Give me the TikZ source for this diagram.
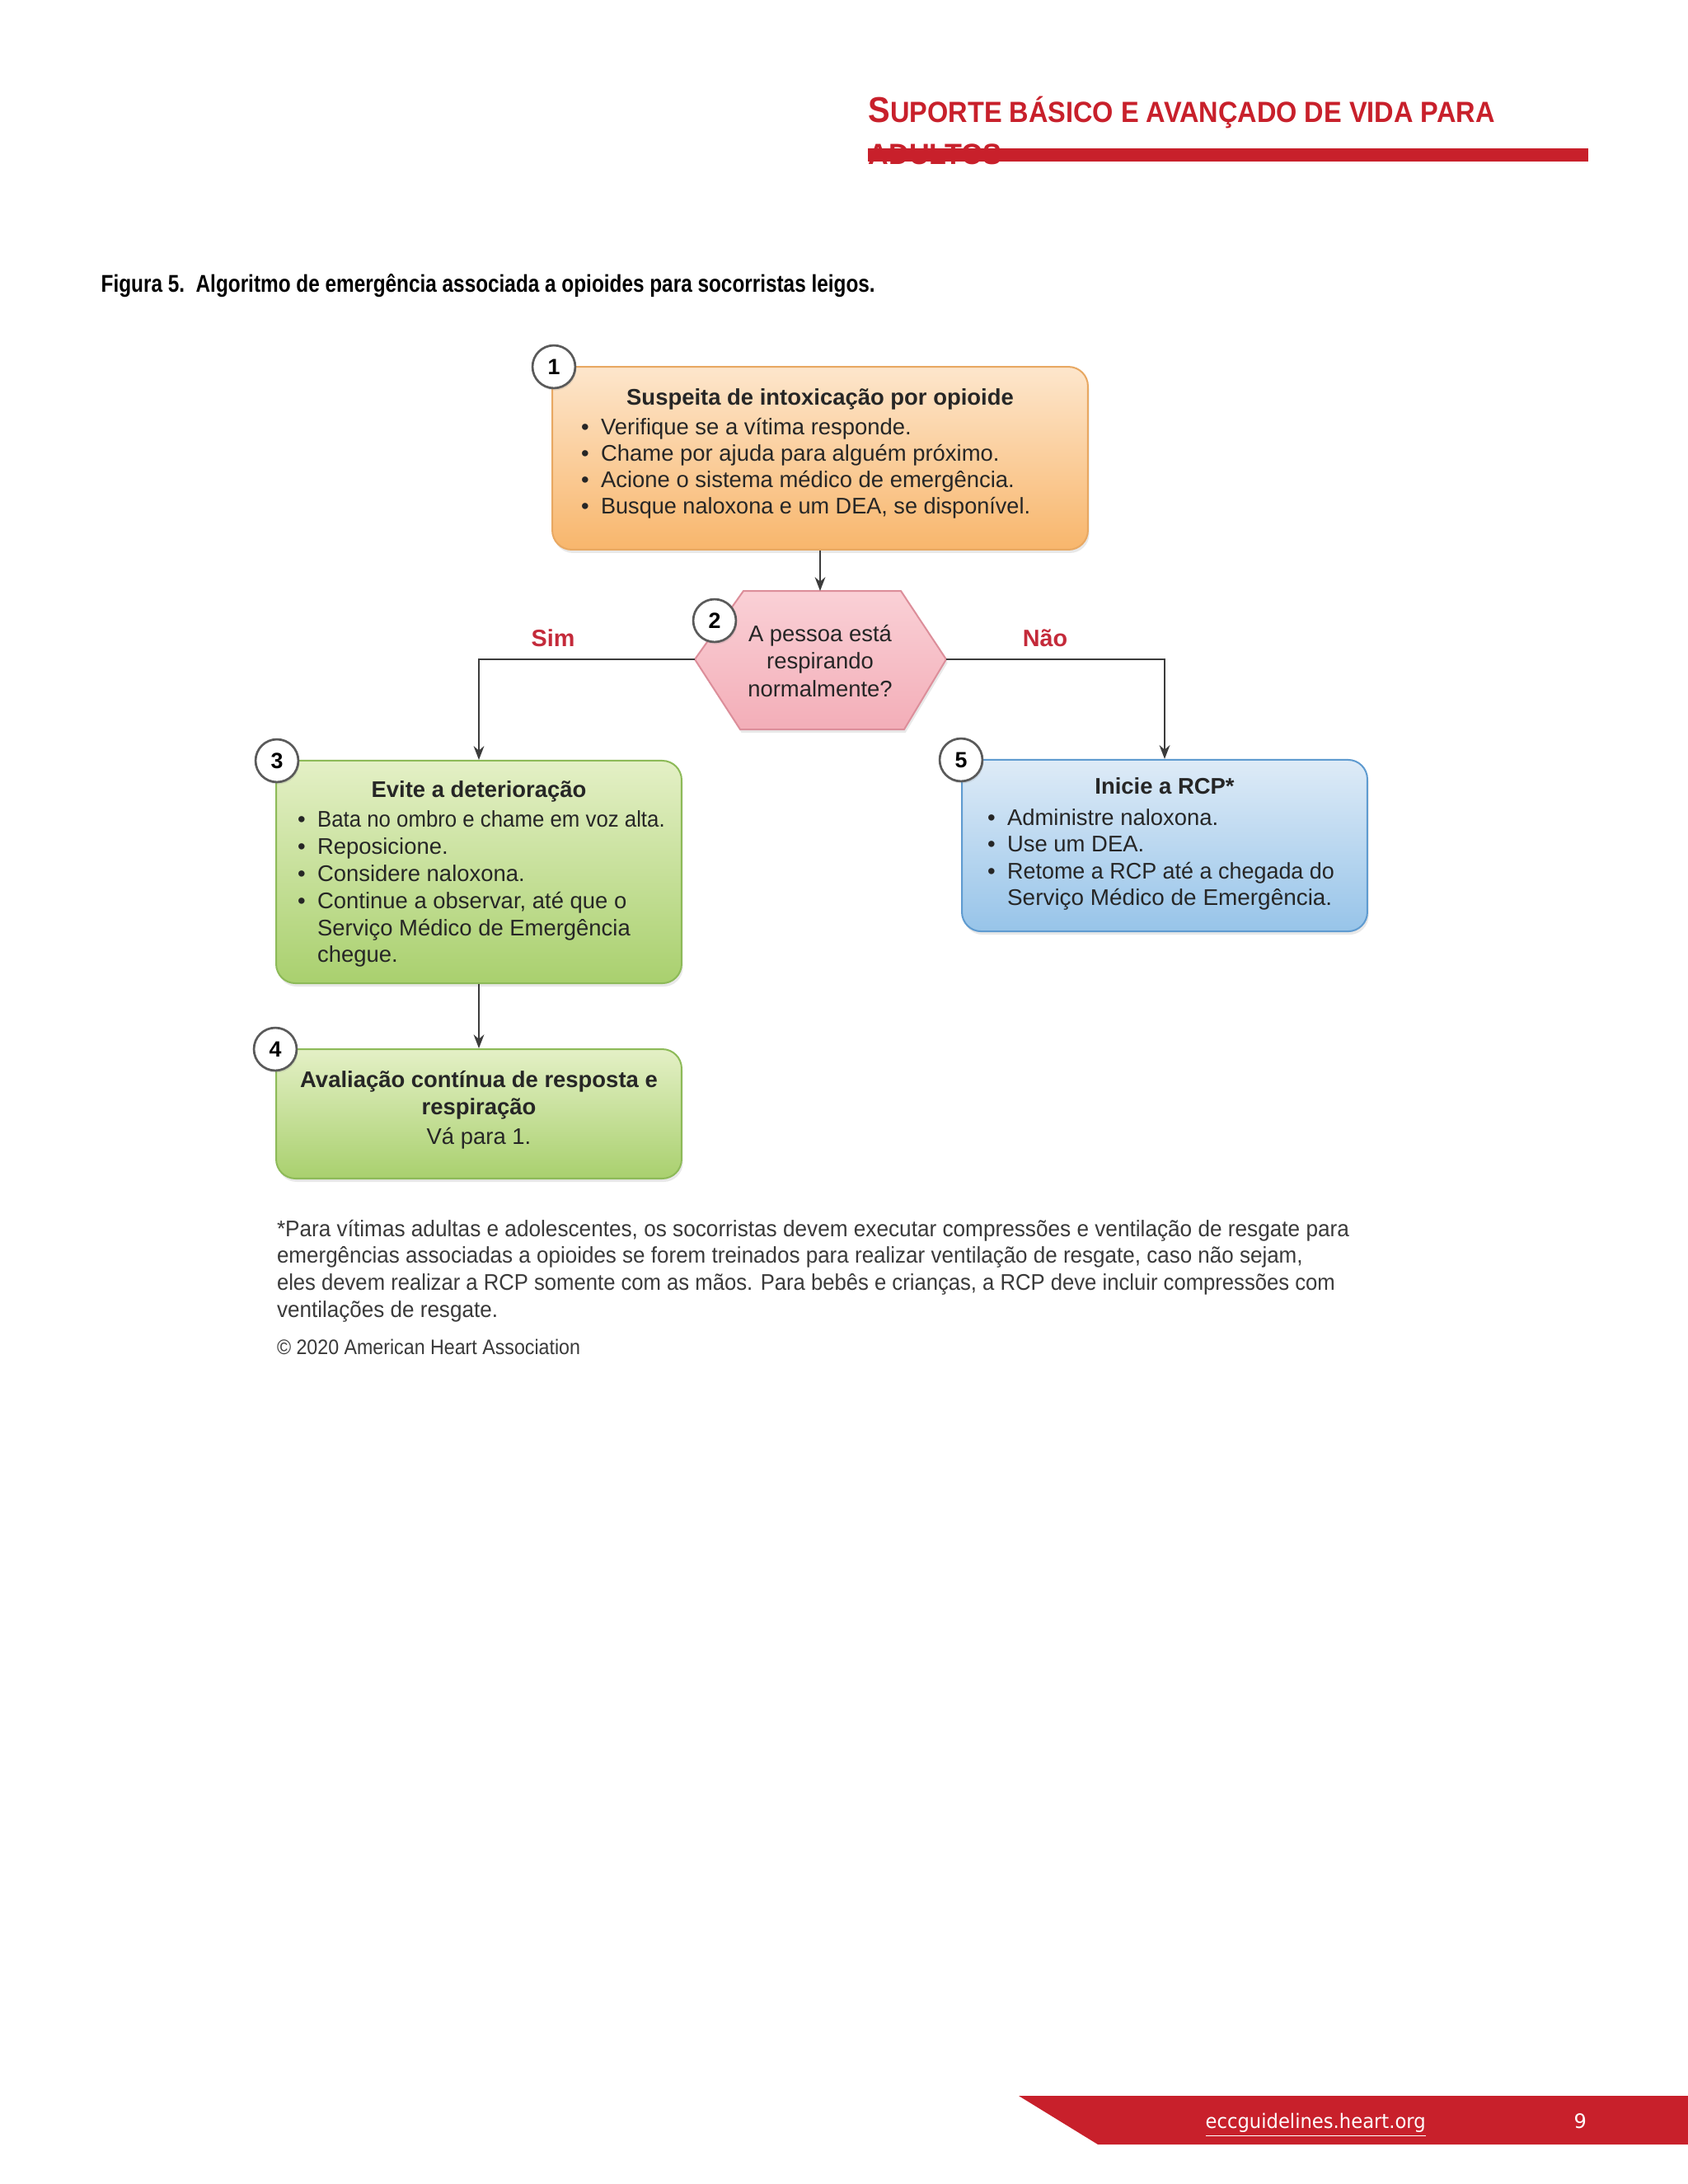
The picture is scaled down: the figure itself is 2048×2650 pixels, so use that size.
\documentclass[tikz,border=0pt]{standalone}
\usepackage{fontspec}
\usepackage{graphicx}
\setmainfont{Liberation Sans}
\newfontfamily\footfont{DejaVu Sans}
\usetikzlibrary{arrows.meta,shadows}
\definecolor{hdrred}{HTML}{C8202B}
\definecolor{labred}{HTML}{C42A3A}
\definecolor{txtc}{HTML}{262626}
\definecolor{fntc}{HTML}{3A3A3A}
\definecolor{linec}{HTML}{3C3C3C}
\definecolor{circc}{HTML}{5A5A5A}
\definecolor{otop}{HTML}{FDE6CC}
\definecolor{obot}{HTML}{F8B66C}
\definecolor{oedge}{HTML}{E8A862}
\definecolor{gtop}{HTML}{E4F0C6}
\definecolor{gbot}{HTML}{A9D06E}
\definecolor{gedge}{HTML}{8DBA58}
\definecolor{btop}{HTML}{DEEBF7}
\definecolor{bbot}{HTML}{97C4E9}
\definecolor{bedge}{HTML}{5F9BD0}
\definecolor{ptop}{HTML}{FAD0D6}
\definecolor{pbot}{HTML}{F3AEB8}
\definecolor{pedge}{HTML}{DC8E9A}
\newcommand\bul{\makebox[7.2pt][l]{\textbullet}}
\newcommand\nob{\hspace*{7.2pt}}
\newcommand\fitw[2]{\resizebox{#1}{\height}{#2}}
\begin{document}
\begin{tikzpicture}[x=0.29883pt,y=-0.29883pt,
  tx/.style={inner sep=0pt,outer sep=0pt,text=txtc,font=\fontsize{8.2}{9.9}\selectfont},
  tb/.style={tx,font=\bfseries\fontsize{8.2}{9.9}\selectfont},
  ftx/.style={inner sep=0pt,outer sep=0pt,text=fntc,font=\fontsize{8.2}{9.9}\selectfont},
  box/.style={draw,line width=0.6pt,rounded corners=7pt,inner sep=0pt,
    drop shadow={shadow xshift=0.5pt,shadow yshift=-1.2pt,opacity=0.18}},
  circ/.style={circle,draw=circc,line width=0.8pt,fill=white,minimum size=15.5pt,inner sep=0pt,
    text=black,font=\bfseries\fontsize{8}{8}\selectfont,
    drop shadow={shadow xshift=0.4pt,shadow yshift=-0.8pt,opacity=0.2}},
  arr/.style={draw=linec,line width=0.7pt,-{Stealth[length=5pt,width=3.8pt]}},
  lab/.style={inner sep=0pt,text=labred,font=\bfseries\fontsize{8.6}{9}\selectfont}]
\useasboundingbox (0,0) rectangle (2048,2650);
\fill[white] (0,0) rectangle (2048,2650);

% header
\node[anchor=base west,inner sep=0pt,text=hdrred] (hdr1) at (1053,148)
  {\bfseries\fitw{227.1pt}{{\fontsize{13}{13}\selectfont S}{\fontsize{10.6}{10.6}\selectfont UPORTE BÁSICO E AVANÇADO DE VIDA PARA}}};
\node[anchor=base west,inner sep=0pt,text=hdrred] (hdr2) at (1053,199)
  {\bfseries\fontsize{10.6}{10.6}\selectfont\fitw{48.4pt}{ADULTOS}};
\fill[hdrred] (1053,180) rectangle (1927,196);

% caption
\node[anchor=base west,inner sep=0pt,text=black] (cap) at (122,354)
  {\bfseries\fontsize{8.8}{9}\selectfont\fitw{280.6pt}{Figura 5.\ \ Algoritmo de emergência associada a opioides para socorristas leigos.}};

% boxes
\node[box,draw=oedge,top color=otop,bottom color=obot,minimum width=194.2pt,minimum height=66.3pt] (b1) at (995,556) {};
\shade[draw=pedge,line width=0.6pt,top color=ptop,bottom color=pbot,
  drop shadow={shadow xshift=0.5pt,shadow yshift=-1.2pt,opacity=0.18}]
  (843,800) -- (902,717) -- (1093,717) -- (1148,800) -- (1097,885) -- (898,885) -- cycle;
\coordinate (hexT) at (995,717);
\coordinate (hexL) at (843,800);
\coordinate (hexR) at (1148,800);
\node[box,draw=gedge,top color=gtop,bottom color=gbot,minimum width=147pt,minimum height=80.7pt] (b3) at (581,1058) {};
\node[box,draw=gedge,top color=gtop,bottom color=gbot,minimum width=147pt,minimum height=46.9pt] (b4) at (581,1351.5) {};
\node[box,draw=bedge,top color=btop,bottom color=bbot,minimum width=147pt,minimum height=62.2pt] (b5) at (1413,1026) {};

% connectors
\draw[arr] (b1.south) -- (hexT);
\draw[arr] (hexL) -| (b3.north);
\draw[arr] (hexR) -| (b5.north);
\draw[arr] (b3.south) -- (b4.north);
\node[lab,anchor=base] (sim) at (671,784) {Sim};
\node[lab,anchor=base] (nao) at (1268,784) {Não};

% box 1 text
\node[tb,anchor=base] (t1) at (995,491) {Suspeita de intoxicação por opioide};
\node[tx,anchor=base west] (t1a) at (705,527) {\bul Verifique se a vítima responde.};
\node[tx,anchor=base west] (t1b) at (705,559) {\bul Chame por ajuda para alguém próximo.};
\node[tx,anchor=base west] (t1c) at (705,591) {\bul Acione o sistema médico de emergência.};
\node[tx,anchor=base west] (t1d) at (705,623) {\bul\fitw{155.7pt}{Busque naloxona e um DEA, se disponível.}};

% hexagon text
\node[tx,anchor=base] (t2a) at (995,778) {A pessoa está};
\node[tx,anchor=base] (t2b) at (995,811) {respirando};
\node[tx,anchor=base] (t2c) at (995,845) {normalmente?};

% box 3 text
\node[tb,anchor=base] (t3) at (581,967) {Evite a deterioração};
\node[tx,anchor=base west] (t3a) at (361,1003) {\bul\fitw{126pt}{Bata no ombro e chame em voz alta.}};
\node[tx,anchor=base west] (t3b) at (361,1036) {\bul Reposicione.};
\node[tx,anchor=base west] (t3c) at (361,1069) {\bul Considere naloxona.};
\node[tx,anchor=base west] (t3d) at (361,1102) {\bul Continue a observar, até que o};
\node[tx,anchor=base west] (t3e) at (361,1135) {\nob Serviço Médico de Emergência};
\node[tx,anchor=base west] (t3f) at (361,1167) {\nob chegue.};

% box 4 text
\node[tb,anchor=base] (t4a) at (581,1319) {Avaliação contínua de resposta e};
\node[tb,anchor=base] (t4b) at (581,1352) {respiração};
\node[tx,anchor=base] (t4c) at (581,1388) {Vá para 1.};

% box 5 text
\node[tb,anchor=base] (t5) at (1413,963) {Inicie a RCP*};
\node[tx,anchor=base west] (t5a) at (1198,1001) {\bul Administre naloxona.};
\node[tx,anchor=base west] (t5b) at (1198,1033) {\bul Use um DEA.};
\node[tx,anchor=base west] (t5c) at (1198,1066) {\bul\fitw{118.6pt}{Retome a RCP até a chegada do}};
\node[tx,anchor=base west] (t5d) at (1198,1098) {\nob\fitw{117.8pt}{Serviço Médico de Emergência.}};

% number circles
\node[circ] (c1) at (672,445) {1};
\node[circ] (c2) at (867,753) {2};
\node[circ] (c3) at (336,923) {3};
\node[circ] (c4) at (334,1273) {4};
\node[circ] (c5) at (1166,922) {5};

% footnote
\node[ftx,anchor=base west] (fn1) at (336,1500) {\fitw{388.8pt}{*Para vítimas adultas e adolescentes, os socorristas devem executar compressões e ventilação de resgate para}};
\node[ftx,anchor=base west] (fn2) at (336,1532) {\fitw{372.0pt}{emergências associadas a opioides se forem treinados para realizar ventilação de resgate, caso não sejam,}};
\node[ftx,anchor=base west] (fn3) at (336,1565) {\fitw{383.7pt}{eles devem realizar a RCP somente com as mãos. Para bebês e crianças, a RCP deve incluir compressões com}};
\node[ftx,anchor=base west] (fn4) at (336,1598) {\fitw{80.1pt}{ventilações de resgate.}};
\node[ftx,anchor=base west,font=\fontsize{7.6}{9}\selectfont] (copy) at (336,1643) {\fitw{110pt}{© 2020 American Heart Association}};

% footer
\fill[hdrred] (1236,2543) -- (2048,2543) -- (2048,2602) -- (1332,2602) -- cycle;
\node[anchor=base west,inner sep=0pt,text=white] (url) at (1462,2582)
  {\footfont\fontsize{7.2}{8}\selectfont\fitw{79.8pt}{\underline{eccguidelines.heart.org}}};
\node[anchor=base west,inner sep=0pt,text=white] (pg) at (1909,2582)
  {\footfont\fontsize{7.2}{8}\selectfont 9};
\end{tikzpicture}
\end{document}
